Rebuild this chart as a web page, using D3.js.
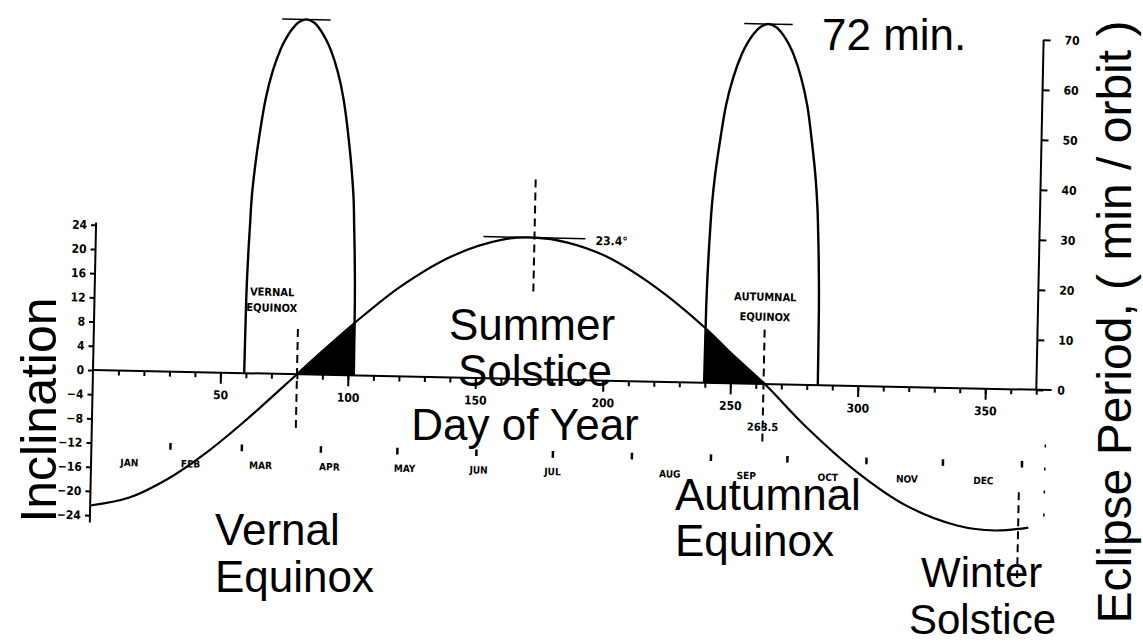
<!DOCTYPE html>
<html>
<head>
<meta charset="utf-8">
<script src="https://cdn.jsdelivr.net/npm/d3@7"></script>
<style>
  body { margin: 0; background: #fff; }
  svg { display: block; }
  .big { font-family: "Liberation Sans", Arial, sans-serif; font-size: 44px; fill: #000; }
  .small { font-family: "Liberation Sans Narrow", "DejaVu Sans Condensed", sans-serif; font-weight: bold; font-size: 11px; fill: #000; }
  .axis path, .axis line { stroke: #000; stroke-width: 2; }
  .axis text { font-family: "Liberation Sans Narrow", "DejaVu Sans Condensed", sans-serif; font-weight: bold; font-size: 12px; fill: #000; }
</style>
</head>
<body>
<svg id="chart" width="1143" height="644"></svg>
<script>
// Sun inclination over the year (degrees)
const inclDays   = [0, 15, 30, 45, 60, 80, 90, 102.5, 120, 140, 160, 172, 185, 200, 220, 239.6, 250, 263.5, 280, 300, 320, 340, 355, 368];
const inclValues = [-22.4, -21.0, -17.8, -13.3, -7.9, 0, 4.0, 8.8, 14.9, 20.1, 23.0, 23.4, 22.7, 20.6, 15.6, 9.1, 5.0, 0, -6.9, -14.1, -19.6, -22.7, -23.4, -22.8];

// Eclipse period humps (min / orbit)
const vernalDays    = [59.3, 59.4, 59.5, 59.7, 60.0, 60.4, 60.8, 61.8, 63.3, 65.5, 68.0, 71.0, 73.0, 75.3, 77.8, 80.8,
                       83.8, 86.3, 88.6, 90.6, 93.6, 96.1, 98.3, 99.8, 100.8, 101.2, 101.6, 101.9, 102.1, 102.2, 102.3];
const vernalMinutes = [0, 8, 15, 20, 25, 30, 35, 41, 47.5, 55, 60.5, 65, 67.1, 69, 70.4, 71,
                       70.4, 69, 67.1, 65, 60.5, 55, 47.5, 41, 35, 30, 25, 20, 15, 8, 0];
const autumnDays    = [239.7, 239.8, 239.9, 240.1, 240.4, 240.8, 241.3, 242.3, 243.9, 246.1, 248.7, 251.8, 253.9, 256.3, 258.9, 262,
                       265.1, 267.7, 270.1, 272.2, 275.3, 277.9, 280.1, 281.7, 282.7, 283.2, 283.6, 283.9, 284.1, 284.2, 284.3];
const autumnMinutes = [0, 8.1, 15.2, 20.3, 25.4, 30.4, 35.5, 41.6, 48.2, 55.8, 61.3, 65.9, 68.1, 70, 71.4, 72,
                       71.4, 70, 68.1, 65.9, 61.3, 55.8, 48.2, 41.6, 35.5, 30.4, 25.4, 20.3, 15.2, 8.1, 0];

// axis ticks
const inclTicks = [24, 20, 16, 12, 8, 4, 0, -4, -8, -12, -16, -20, -24];
const eclipseTicks = [0, 10, 20, 30, 40, 50, 60, 70];
const dayTicks = [50, 100, 150, 200, 250, 300, 350];
const dayMinorTicks = d3.range(10, 371, 10);

// months
const monthNames = ['JAN', 'FEB', 'MAR', 'APR', 'MAY', 'JUN', 'JUL', 'AUG', 'SEP', 'OCT', 'NOV', 'DEC'];
const monthLabelDays = [15, 39, 66.5, 93.5, 123, 152, 181, 227, 257, 289, 320, 350];
const monthStartDays = [31, 59, 90, 120, 151, 181, 212, 243, 273, 304, 334, 365];

// event markers
const equinoxDays = [80, 263];
const solsticeDays = [172, 364];

const svg = d3.select('#chart');

// the scanned plot sits slightly tilted
const plot = svg.append('g')
    .attr('transform', 'translate(93,370) rotate(1.2)');

const x = d3.scaleLinear().domain([0, 370]).range([0, 943.5]);
const yInc = d3.scaleLinear().domain([-24, 24]).range([145.2, -145.2]);
const yEcl = d3.scaleLinear().domain([0, 70]).range([0, -350]);

const inclData = inclDays.map((d, i) => ({ day: d, v: inclValues[i] }));

// shaded overlap areas
const shade = d3.area()
    .x(d => x(d.day))
    .y0(yInc(0))
    .y1(d => yInc(d.v))
    .curve(d3.curveMonotoneX);

plot.append('path')
    .datum(inclData.filter(d => d.day >= 80 && d.day <= 102.5))
    .attr('fill', '#000')
    .attr('d', shade);

plot.append('path')
    .datum(inclData.filter(d => d.day >= 239.6 && d.day <= 263.5))
    .attr('fill', '#000')
    .attr('d', shade);

// inclination curve
const inclLine = d3.line()
    .x(d => x(d.day))
    .y(d => yInc(d.v))
    .curve(d3.curveCatmullRom.alpha(0.5));

plot.append('path')
    .datum(inclData)
    .attr('fill', 'none')
    .attr('stroke', '#000')
    .attr('stroke-width', 2.2)
    .attr('d', inclLine);

// eclipse humps
const humpLine = d3.line()
    .x(d => x(d[0]))
    .y(d => yEcl(d[1]))
    .curve(d3.curveCatmullRom.alpha(0.5));

[[vernalDays, vernalMinutes], [autumnDays, autumnMinutes]].forEach(([days, mins]) => {
    const pts = days.map((d, i) => [d, mins[i]]);
    plot.append('path')
        .datum(pts)
        .attr('fill', 'none')
        .attr('stroke', '#000')
        .attr('stroke-width', 2.4)
        .attr('d', humpLine);

    // peak marker
    const peak = pts[d3.maxIndex(pts, p => p[1])];
    plot.append('line')
        .attr('x1', x(peak[0] - 9.5))
        .attr('x2', x(peak[0] + 9.5))
        .attr('y1', yEcl(peak[1]))
        .attr('y2', yEcl(peak[1]))
        .attr('stroke', '#000')
        .attr('stroke-width', 1.5);
});

// solstice peak marker
plot.append('line')
    .attr('x1', x(solsticeDays[0] - 20))
    .attr('x2', x(solsticeDays[0] + 20))
    .attr('y1', yInc(d3.max(inclValues)))
    .attr('y2', yInc(d3.max(inclValues)))
    .attr('stroke', '#000')
    .attr('stroke-width', 1.5);

// dashed event lines
const dashed = [
    { day: equinoxDays[0], from: 7.5, to: -9.5 },
    { day: equinoxDays[1], from: 9, to: -9.5 },
    { day: solsticeDays[0], from: 33, to: 14.5 },
    { day: solsticeDays[1], from: -17, to: -31.5 }
];
plot.selectAll('.event')
    .data(dashed)
    .enter()
    .append('line')
    .attr('class', 'event')
    .attr('x1', d => x(d.day))
    .attr('x2', d => x(d.day))
    .attr('y1', d => yInc(d.from))
    .attr('y2', d => yInc(d.to))
    .attr('stroke', '#000')
    .attr('stroke-width', 2)
    .attr('stroke-dasharray', '8,5');

// horizontal (day) axis
plot.append('line')
    .attr('x1', x(0))
    .attr('x2', x(376))
    .attr('y1', yInc(0))
    .attr('y2', yInc(0))
    .attr('stroke', '#000')
    .attr('stroke-width', 2);

const minorAxis = plot.append('g')
    .attr('class', 'axis')
    .attr('transform', `translate(0,${yInc(0)})`)
    .call(d3.axisBottom(x).tickValues(dayMinorTicks).tickSize(5).tickFormat(''));
minorAxis.select('.domain').remove();

const majorAxis = plot.append('g')
    .attr('class', 'axis')
    .attr('transform', `translate(0,${yInc(0)})`)
    .call(d3.axisBottom(x).tickValues(dayTicks).tickSize(11).tickPadding(7));
majorAxis.select('.domain').remove();

// left axis (inclination)
const leftAxis = plot.append('g')
    .attr('class', 'axis')
    .call(d3.axisLeft(yInc).tickValues(inclTicks).tickSize(5).tickPadding(4).tickSizeOuter(0));
leftAxis.select('.domain').remove();
plot.append('line')
    .attr('x1', 0).attr('x2', 0)
    .attr('y1', yInc(24.4)).attr('y2', yInc(-25.2))
    .attr('stroke', '#000').attr('stroke-width', 2);

// right axis (eclipse period)
const rightAxis = plot.append('g')
    .attr('class', 'axis')
    .attr('transform', `translate(${x(370)},0)`)
    .call(d3.axisRight(yEcl).tickValues(eclipseTicks).tickSize(7).tickPadding(14).tickSizeOuter(0));
rightAxis.select('.domain').remove();
plot.append('line')
    .attr('x1', x(370)).attr('x2', x(370))
    .attr('y1', yEcl(70)).attr('y2', yEcl(0))
    .attr('stroke', '#000').attr('stroke-width', 2);

// short dashes continuing the right axis below zero
plot.append('line')
    .attr('x1', x(374)).attr('x2', x(374))
    .attr('y1', yInc(-9)).attr('y2', yInc(-21))
    .attr('stroke', '#000').attr('stroke-width', 1.5)
    .attr('stroke-dasharray', '3,20');

// months row
plot.selectAll('.month-mark')
    .data(monthStartDays)
    .enter()
    .append('line')
    .attr('class', 'month-mark')
    .attr('x1', d => x(d)).attr('x2', d => x(d))
    .attr('y1', yInc(-11.8)).attr('y2', yInc(-12.9))
    .attr('stroke', '#000').attr('stroke-width', 2.5);

plot.selectAll('.month')
    .data(monthNames)
    .enter()
    .append('text')
    .attr('class', 'small')
    .attr('x', (d, i) => x(monthLabelDays[i]))
    .attr('y', yInc(-15.2))
    .attr('dy', '0.35em')
    .attr('text-anchor', 'middle')
    .style('font-size', '10px')
    .text(d => d);

// small annotations inside the plot
const notes = [
    { text: 'VERNAL', day: 69.6, v: 13.5 },
    { text: 'EQUINOX', day: 69.6, v: 10.9 },
    { text: 'AUTUMNAL', day: 263, v: 14.4 },
    { text: 'EQUINOX', day: 263, v: 11.1 },
    { text: '263.5', day: 263, v: -7.1 }
];
plot.selectAll('.note')
    .data(notes)
    .enter()
    .append('text')
    .attr('class', 'small')
    .attr('x', d => x(d.day))
    .attr('y', d => yInc(d.v))
    .attr('dy', '0.35em')
    .attr('text-anchor', 'middle')
    .text(d => d.text);

plot.append('text')
    .attr('class', 'small')
    .attr('x', x(196))
    .attr('y', yInc(23.1))
    .attr('dy', '0.35em')
    .style('font-size', '12px')
    .text('23.4°');

// large typed labels
const bigLabels = [
    { text: '72 min.', x: 822, y: 50, anchor: 'start', size: 44 },
    { text: 'Summer', x: 532, y: 340, anchor: 'middle', size: 44 },
    { text: 'Solstice', x: 535, y: 386, anchor: 'middle', size: 44 },
    { text: 'Day of Year', x: 525, y: 440, anchor: 'middle', size: 44 },
    { text: 'Vernal', x: 215, y: 545, anchor: 'start', size: 44 },
    { text: 'Equinox', x: 215, y: 592, anchor: 'start', size: 44 },
    { text: 'Autumnal', x: 675, y: 510, anchor: 'start', size: 44 },
    { text: 'Equinox', x: 675, y: 556, anchor: 'start', size: 44 },
    { text: 'Winter', x: 921, y: 587, anchor: 'start', size: 42 },
    { text: 'Solstice', x: 909, y: 634, anchor: 'start', size: 42 }
];
svg.selectAll('.big-label')
    .data(bigLabels)
    .enter()
    .append('text')
    .attr('class', 'big')
    .attr('x', d => d.x)
    .attr('y', d => d.y)
    .attr('text-anchor', d => d.anchor)
    .style('font-size', d => d.size + 'px')
    .text(d => d.text);

svg.append('text')
    .attr('class', 'big')
    .attr('transform', 'translate(56,410) rotate(-90)')
    .attr('text-anchor', 'middle')
    .style('font-size', '50px')
    .text('Inclination');

svg.append('text')
    .attr('class', 'big')
    .attr('transform', 'translate(1131,322) rotate(-90)')
    .attr('text-anchor', 'middle')
    .style('font-size', '48px')
    .text('Eclipse Period, ( min / orbit )');
</script>
</body>
</html>
